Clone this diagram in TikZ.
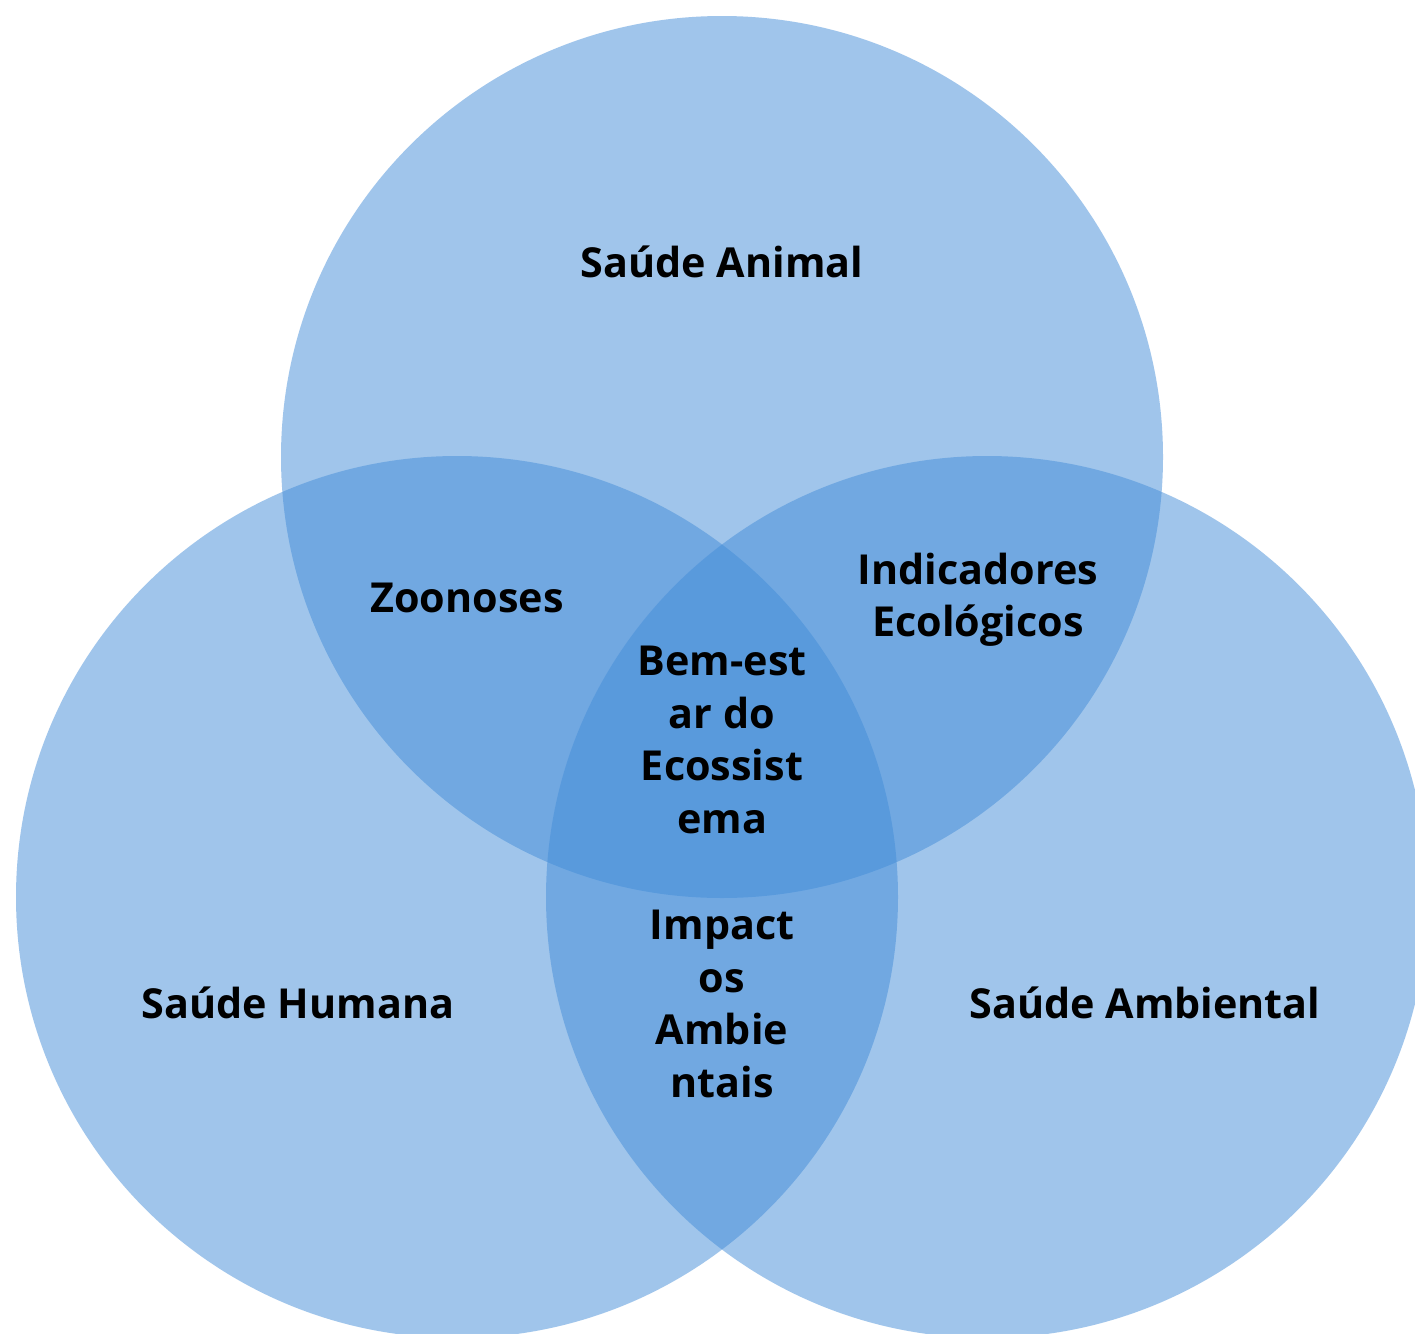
\documentclass[tikz,border=0pt]{standalone}
\usepackage{fontspec}
\setmainfont{Open Sans}
\definecolor{vennblue}{RGB}{67,141,217}
\begin{document}
\begin{tikzpicture}[x=1pt,y=-1pt,
  circ/.style={fill=vennblue,fill opacity=0.5,draw=none},
  lbl/.style={font=\fontsize{41.3}{52.5}\selectfont\bfseries,text=black,align=center,inner sep=0pt}]
\useasboundingbox (0,0) rectangle (1415,1333);
\fill[white] (0,0) rectangle (1415,1333);
\fill[circ] (722,457) circle[radius=441];
\fill[circ] (457,897) circle[radius=441];
\fill[circ] (987,897) circle[radius=441];
\node[lbl] (animal) at (722,262) {Saúde Animal};
\node[lbl] (zoo) at (467,598) {Zoonoses};
\node[lbl] (ind) at (978,600) {Indicadores\\Ecológicos};
\node[lbl] (bem) at (722,740) {Bem-est\\ar do\\Ecossist\\ema};
\node[lbl] (imp) at (722,1004) {Impact\\os\\Ambie\\ntais};
\node[lbl] (hum) at (298,1003) {Saúde Humana};
\node[lbl] (amb) at (1145,1003) {Saúde Ambiental};
\end{tikzpicture}
\end{document}
